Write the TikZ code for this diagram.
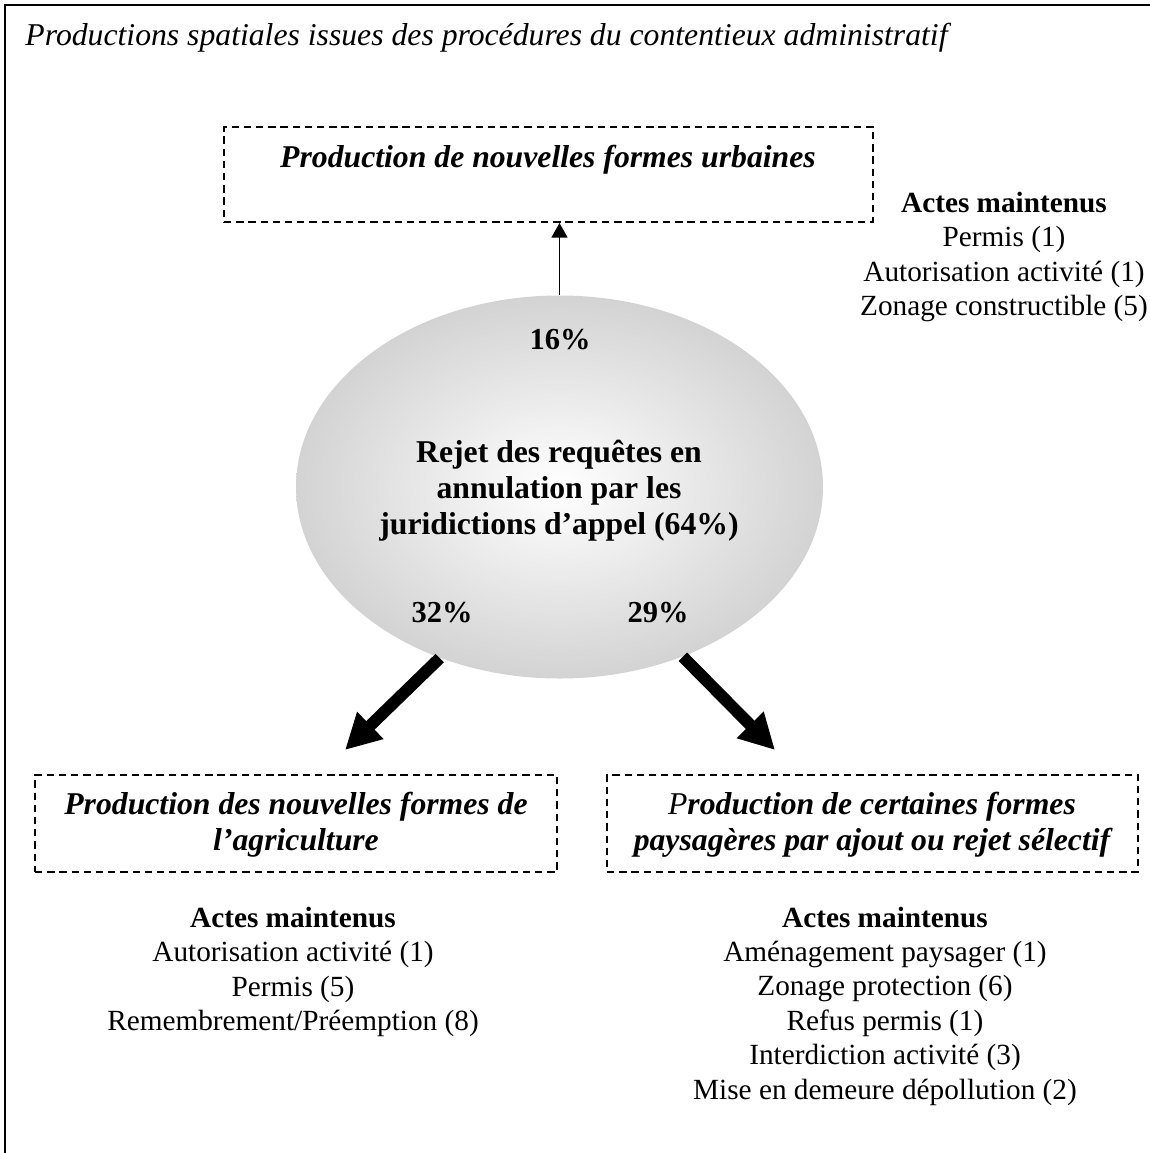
\documentclass[tikz,border=0pt]{standalone}
\usepackage{fontspec}
\setmainfont{Liberation Serif}
\usetikzlibrary{shapes.geometric}
\usetikzlibrary{arrows.meta}

\newdimen\px \px=0.41pt
\newcommand{\tailletexte}{\fontsize{12}{14.1}\selectfont}
\newcommand{\taillegrand}{\fontsize{13}{14.8}\selectfont}
\definecolor{grisbord}{RGB}{211,211,211}

\begin{document}
\begin{tikzpicture}[x=0.41pt,y=-0.41pt,
  every node/.style={inner sep=0pt, font=\tailletexte},
  boite/.style={draw, rectangle, line width=0.8pt, dash pattern=on 3pt off 2pt},
  titreboite/.style={align=center, font=\taillegrand\bfseries\itshape},
  pourcent/.style={font=\fontsize{12.5}{14}\selectfont\bfseries},
  fleche fine/.style={line width=0.8pt, -{Triangle[length=6pt,width=6.5pt]}},
  fleche epaisse/.style={line width=4.9pt, -{Triangle[length=14.5pt,width=14.5pt]}}]
\useasboundingbox (0,0) rectangle (1150,1153);

% Cadre et titre
\draw[line width=0.8pt] (5,1153) -- (5,5) -- (1150,5);
\node[anchor=base west, font=\taillegrand\itshape] (titre) at (25,45)
  {Productions spatiales issues des procédures du contentieux administratif};

% Ellipse centrale
\node[ellipse, shading=radial, inner color=white, outer color=grisbord,
  minimum width=527\px, minimum height=383\px, align=center, font=\taillegrand\bfseries]
  (ell) at (559.5,487) {};
\node[align=center, font=\taillegrand\bfseries] (elltxt) at (559,491)
  {Rejet des requêtes en\\ annulation par les\\ juridictions d’appel (64\%)};
\node[pourcent] (p16) at (560,340) {16\%};
\node[pourcent] (p32) at (442,613) {32\%};
\node[pourcent] (p29) at (658,613) {29\%};

% Boites en pointilles
\node[boite, minimum width=649\px, minimum height=95\px] (urbain) at (548.5,174.5) {};
\node[titreboite] (urbaintxt) at (548,160) {Production de nouvelles formes urbaines};

\node[boite, minimum width=522\px, minimum height=97\px] (agri) at (296,823.5) {};
\node[titreboite] (agritxt) at (296,825) {Production des nouvelles formes de\\ l’agriculture};

\node[boite, minimum width=531\px, minimum height=97\px] (paysage) at (872.5,823.5) {};
\node[titreboite] (paysagetxt) at (872,825)
  {{\mdseries P}roduction de certaines formes\\ paysagères par ajout ou rejet sélectif};

% Fleches
\coordinate (pointeg) at (345,750);
\coordinate (pointed) at (775,750);
\draw[fleche fine] (ell.north) -- (ell.north |- urbain.south);
\draw[fleche epaisse] (ell.-125) -- (pointeg);
\draw[fleche epaisse] (ell.-54) -- (pointed);

% Actes maintenus
\node[align=center] (actesurbain) at (1004,257)
  {\textbf{Actes maintenus}\\ Permis (1)\\ Autorisation activité (1)\\ Zonage constructible (5)};
\node[align=center] (actesagri) at (293,972)
  {\textbf{Actes maintenus}\\ Autorisation activité (1)\\ Permis (5)\\ Remembrement/Préemption (8)};
\node[align=center] (actespaysage) at (885,1006)
  {\textbf{Actes maintenus}\\ Aménagement paysager (1)\\ Zonage protection (6)\\ Refus permis (1)\\
   Interdiction activité (3)\\ Mise en demeure dépollution (2)};

\end{tikzpicture}
\end{document}
